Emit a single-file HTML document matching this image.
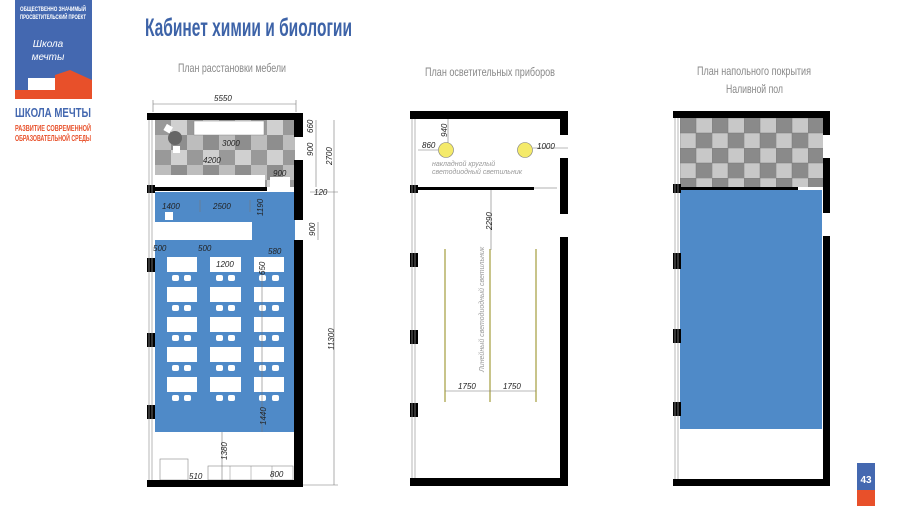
<!DOCTYPE html>
<html><head><meta charset="utf-8"><style>
body{margin:0;background:#fff;width:900px;height:506px;overflow:hidden;font-family:"Liberation Sans",sans-serif}
</style></head><body>
<svg width="900" height="506" viewBox="0 0 900 506" xmlns="http://www.w3.org/2000/svg" font-family="Liberation Sans, sans-serif">
<defs>
<pattern id="chk" x="680" y="118" width="32" height="30" patternUnits="userSpaceOnUse">
<rect width="32" height="30" fill="#c8c8c8"/><rect width="16" height="15" fill="#8a8a8a"/><rect x="16" y="15" width="16" height="15" fill="#8a8a8a"/>
<path d="M0 0H32M0 15H32M0 0V30M16 0V30" stroke="#777" stroke-width="0.5"/>
</pattern>
<pattern id="chk2" x="155" y="120" width="32" height="30" patternUnits="userSpaceOnUse">
<rect width="32" height="30" fill="#bdbdbd"/><rect width="16" height="15" fill="#999"/><rect x="16" y="15" width="16" height="15" fill="#8e8e8e"/><rect x="16" width="16" height="15" fill="#d0d0d0"/>
</pattern>
</defs>
<!-- logo -->
<rect x="15" y="0" width="77" height="99" fill="#4468b0"/>
<polygon points="15,90 55,90 55,75 70,70 92,80 92,99 15,99" fill="#e8502a"/>
<rect x="28" y="78" width="27" height="12" fill="#fff"/>
<text x="53" y="11" font-size="6" fill="#fff" text-anchor="middle" font-weight="bold" textLength="66" lengthAdjust="spacingAndGlyphs">ОБЩЕСТВЕННО ЗНАЧИМЫЙ</text>
<text x="53" y="19" font-size="6" fill="#fff" text-anchor="middle" font-weight="bold" textLength="66" lengthAdjust="spacingAndGlyphs">ПРОСВЕТИТЕЛЬСКИЙ ПРОЕКТ</text>
<text x="48" y="47" font-size="10" fill="#fff" font-style="italic" text-anchor="middle">Школа</text>
<text x="48" y="60" font-size="10" fill="#fff" font-style="italic" text-anchor="middle">мечты</text>
<text x="53" y="117" font-size="13" fill="#4468b0" text-anchor="middle" font-weight="bold" textLength="76" lengthAdjust="spacingAndGlyphs">ШКОЛА МЕЧТЫ</text>
<text x="53" y="131" font-size="8" fill="#e8502a" text-anchor="middle" font-weight="bold" textLength="76" lengthAdjust="spacingAndGlyphs">РАЗВИТИЕ СОВРЕМЕННОЙ</text>
<text x="53" y="141" font-size="8" fill="#e8502a" text-anchor="middle" font-weight="bold" textLength="76" lengthAdjust="spacingAndGlyphs">ОБРАЗОВАТЕЛЬНОЙ СРЕДЫ</text>
<!-- title -->
<text x="145" y="36" font-size="25" fill="#3d63a8" font-weight="bold" textLength="207" lengthAdjust="spacingAndGlyphs">Кабинет химии и биологии</text>
<text x="178" y="72" font-size="12" fill="#888" textLength="108" lengthAdjust="spacingAndGlyphs">План расстановки мебели</text>
<text x="425" y="76" font-size="12" fill="#888" textLength="130" lengthAdjust="spacingAndGlyphs">План осветительных приборов</text>
<text x="697" y="75" font-size="12" fill="#888" textLength="114" lengthAdjust="spacingAndGlyphs">План напольного покрытия</text>
<text x="726" y="93" font-size="12" fill="#888" textLength="57" lengthAdjust="spacingAndGlyphs">Наливной пол</text>

<!-- LEFT PLAN -->
<rect x="155" y="120" width="140" height="67" fill="url(#chk2)"/>
<rect x="194" y="121" width="70" height="14" fill="#fff" stroke="#888" stroke-width="0.5"/>
<rect x="155" y="175" width="110" height="12" fill="#fff"/>
<rect x="270" y="177" width="20" height="10" fill="#fff"/>
<circle cx="175" cy="138" r="7" fill="#666"/>
<rect x="165" y="125" width="7" height="7" fill="#fff" transform="rotate(30 168 128)"/>
<rect x="173" y="146" width="7" height="7" fill="#fff"/>
<rect x="155" y="192" width="140" height="240" fill="#4f8ac8"/>
<rect x="155" y="222" width="97" height="18" fill="#fff"/>
<rect x="165" y="212" width="8" height="8" fill="#fff"/>
<g fill="#fff">
<g id="row">
<rect x="167" y="257" width="30" height="15"/><rect x="210" y="257" width="31" height="15"/><rect x="254" y="257" width="30" height="15"/>
<rect x="172" y="275" width="7" height="6" rx="2"/><rect x="184" y="275" width="7" height="6" rx="2"/>
<rect x="216" y="275" width="7" height="6" rx="2"/><rect x="228" y="275" width="7" height="6" rx="2"/>
<rect x="259" y="275" width="7" height="6" rx="2"/><rect x="272" y="275" width="7" height="6" rx="2"/>
</g>
<use href="#row" y="30"/><use href="#row" y="60"/><use href="#row" y="90"/><use href="#row" y="120"/>
</g>
<rect x="160" y="459" width="28" height="21" fill="none" stroke="#888" stroke-width="0.6"/>
<rect x="208" y="466" width="85" height="14" fill="none" stroke="#888" stroke-width="0.6"/>
<path d="M230 466V480M251 466V480M272 466V480" stroke="#888" stroke-width="0.5"/>
<!-- walls -->
<g fill="#000">
<rect x="147" y="113" width="156" height="7"/>
<rect x="294" y="113" width="9" height="24"/><rect x="294" y="160" width="9" height="60"/><rect x="294" y="240" width="9" height="247"/>
<rect x="147" y="480" width="156" height="7"/>
<rect x="155" y="187" width="112" height="4"/>
<rect x="147" y="185" width="8" height="8"/><rect x="147" y="258" width="8" height="14"/><rect x="147" y="333" width="8" height="14"/><rect x="147" y="405" width="8" height="14"/>
</g>
<path d="M149 120V480M152 120V480" stroke="#999" stroke-width="0.7"/>
<!-- dims -->
<g stroke="#777" stroke-width="0.6" fill="none">
<path d="M153 104H296M153 100V112M296 100V112"/>
<path d="M316 120V187M334 120V485M310 192H338M303 485H338M318 222V240"/>
<path d="M262 272V432M222 432V480M200 200V212M250 200V212"/>
</g>
<g font-size="8" fill="#222" font-style="italic">
<text x="214" y="101">5550</text>
<text x="222" y="146">3000</text>
<text x="203" y="163">4200</text>
<text x="273" y="176">900</text>
<text x="314" y="195">120</text>
<text x="162" y="209">1400</text>
<text x="213" y="209">2500</text>
<text x="153" y="251">500</text>
<text x="198" y="251">500</text>
<text x="268" y="254">580</text>
<text x="216" y="267">1200</text>
<text x="270" y="477">800</text>
<text x="189" y="479">510</text>
<text transform="translate(313,133) rotate(-90)">660</text>
<text transform="translate(313,156) rotate(-90)">900</text>
<text transform="translate(332,165) rotate(-90)">2700</text>
<text transform="translate(263,216) rotate(-90)">1190</text>
<text transform="translate(315,236) rotate(-90)">900</text>
<text transform="translate(265,275) rotate(-90)">650</text>
<text transform="translate(334,350) rotate(-90)">11300</text>
<text transform="translate(266,425) rotate(-90)">1440</text>
<text transform="translate(227,460) rotate(-90)">1380</text>
</g>

<!-- MIDDLE PLAN -->
<g fill="#000">
<rect x="410" y="111" width="158" height="8"/>
<rect x="560" y="111" width="8" height="24"/><rect x="560" y="158" width="8" height="56"/><rect x="560" y="237" width="8" height="249"/>
<rect x="410" y="478" width="158" height="8"/>
<rect x="417" y="187" width="117" height="3"/>
<rect x="410" y="185" width="8" height="8"/><rect x="410" y="253" width="8" height="14"/><rect x="410" y="330" width="8" height="14"/><rect x="410" y="403" width="8" height="14"/>
</g>
<path d="M412 119V478M415 119V478M534 188H557" stroke="#999" stroke-width="0.7"/>
<circle cx="446" cy="150" r="7.5" fill="#f4ea6a" stroke="#777" stroke-width="0.6"/>
<circle cx="525" cy="150" r="7.5" fill="#f4ea6a" stroke="#777" stroke-width="0.6"/>
<g stroke="#c8c48a" stroke-width="2"><path d="M445 249V402M490 249V402M536 249V402"/></g>
<g stroke="#777" stroke-width="0.6"><path d="M448 119V143M418 150H438M533 148H568M491 190V250M445 391H536"/></g>
<g font-size="8" fill="#222" font-style="italic">
<text x="422" y="148">860</text><text x="537" y="149">1000</text>
<text transform="translate(447,137) rotate(-90)">940</text>
<text transform="translate(492,230) rotate(-90)">2290</text>
<text x="458" y="389">1750</text><text x="503" y="389">1750</text>
</g>
<g font-size="7" fill="#999" font-style="italic">
<text x="432" y="166">накладной круглый</text>
<text x="432" y="174">светодиодный светильник</text>
<text transform="translate(484,372) rotate(-90)">Линейный светодиодный светильник</text>
</g>

<!-- RIGHT PLAN -->
<rect x="680" y="118" width="143" height="69" fill="url(#chk)"/>
<rect x="680" y="190" width="142" height="239" fill="#4f8ac8"/>
<g fill="#000">
<rect x="673" y="111" width="157" height="7"/>
<rect x="823" y="111" width="7" height="24"/><rect x="823" y="158" width="7" height="55"/><rect x="823" y="236" width="7" height="250"/>
<rect x="673" y="479" width="157" height="7"/>
<rect x="680" y="187" width="118" height="3"/>
<rect x="673" y="184" width="8" height="9"/><rect x="673" y="253" width="8" height="16"/><rect x="673" y="329" width="8" height="14"/><rect x="673" y="402" width="8" height="14"/>
</g>
<path d="M675 118V479M678 118V479" stroke="#999" stroke-width="0.7"/>
<!-- page num -->
<rect x="857" y="463" width="18" height="27" fill="#4468b0"/>
<rect x="857" y="490" width="18" height="16" fill="#e8502a"/>
<text x="866" y="483" font-size="10" fill="#fff" font-weight="bold" text-anchor="middle">43</text>
</svg>
</body></html>
